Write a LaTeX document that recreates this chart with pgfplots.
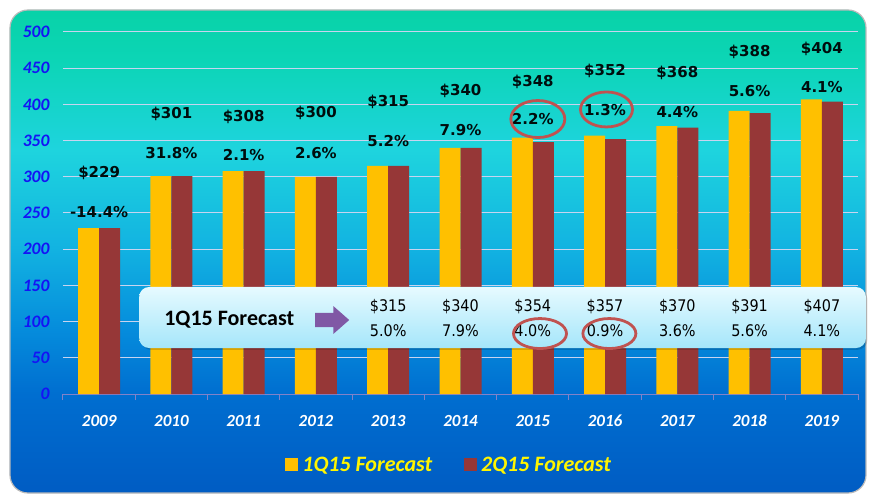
\documentclass[border=0pt]{standalone}
\usepackage{fontspec}
\setmainfont{DejaVu Sans}
\newfontfamily\carlito{Carlito}
\newfontfamily\djc{DejaVu Sans Condensed}
\usepackage{pgfplots}
\pgfplotsset{compat=1.18}

\definecolor{barY}{RGB}{255,192,0}
\definecolor{barR}{RGB}{150,55,55}
\definecolor{circ}{RGB}{192,82,80}
\definecolor{ytc}{RGB}{20,20,245}
\definecolor{gridc}{RGB}{200,212,240}
\definecolor{arrowc}{RGB}{128,88,165}
\definecolor{legy}{RGB}{255,245,0}
\definecolor{c1}{RGB}{8,210,168}
\definecolor{c2}{RGB}{12,213,182}
\definecolor{c3}{RGB}{30,212,222}
\definecolor{c4}{RGB}{18,178,225}
\definecolor{c5}{RGB}{5,140,220}
\definecolor{c6}{RGB}{0,110,208}
\definecolor{c7}{RGB}{0,92,195}
\definecolor{boxtop}{RGB}{230,250,255}
\definecolor{boxbot}{RGB}{165,230,250}

\pgfdeclareverticalshading{panel}{100bp}{color(0bp)=(c7); color(25bp)=(c7); color(35.2bp)=(c6); color(41.9bp)=(c5); color(50.2bp)=(c4); color(60.5bp)=(c3); color(69.8bp)=(c2); color(75bp)=(c1); color(100bp)=(c1)}

\begin{document}
\begin{tikzpicture}
\useasboundingbox (-63bp,-101bp) rectangle (813bp,394bp);
\fill[white] (-63bp,-101bp) rectangle (813bp,394bp);
\shadedraw[shading=panel, draw=gray!55, line width=1.2bp, rounded corners=18bp] (-53bp,-99bp) rectangle (803bp,384bp);
\begin{axis}[
  width=795bp, height=362bp, scale only axis,
  xmin=-0.5, xmax=10.5, ymin=0, ymax=500,
  ybar=0pt, bar width=21bp,
  xtick={0,...,10},
  xticklabels={2009,2010,2011,2012,2013,2014,2015,2016,2017,2018,2019},
  ytick={0,50,...,500},
  major tick length=0pt,
  extra x ticks={-0.5,0.5,...,10.5},
  extra x tick labels={},
  extra x tick style={major tick length=6bp, tick align=outside, tick style={draw=gray!60!blue!70, line width=1bp}},
  axis x line*=bottom, axis y line*=left,
  axis line style={-},
  y axis line style={draw=none},
  x axis line style={draw=gray!60!blue!70, line width=1bp},
  ymajorgrids, grid style={gridc, line width=1bp},
  /pgf/number format/assume math mode=true,
  xticklabel style={font=\carlito\bfseries\itshape\fontsize{17bp}{20bp}\selectfont, text=white, text height=11bp, text depth=0bp, anchor=north, yshift=-18bp},
  yticklabel style={font=\carlito\bfseries\itshape\fontsize{17.5bp}{20bp}\selectfont, text=ytc, xshift=-10bp},
  clip=false,
  legend style={at={(axis description cs:0.487,-0.196)}, anchor=center, draw=none, fill=none,
    legend columns=2, font=\carlito\bfseries\itshape\fontsize{22bp}{26bp}\selectfont, text=legy,
    /tikz/every even column/.append style={column sep=28bp}, inner sep=0pt,
    nodes={inner sep=4bp}},
  legend image code/.code={\fill[#1,draw=none] (0bp,-6.5bp) rectangle (13bp,6.5bp);},
]
\addplot[fill=barY, draw=none] coordinates {(0,229) (1,301) (2,308) (3,300) (4,315) (5,340) (6,354) (7,357) (8,370) (9,391) (10,407)};
\addlegendentry{1Q15 Forecast}
\addplot[fill=barR, draw=none] coordinates {(0,229) (1,301) (2,308) (3,300) (4,315) (5,340) (6,348) (7,352) (8,368) (9,388) (10,404)};
\addlegendentry{2Q15 Forecast}

% labels above bars
\begin{scope}[every node/.style={font=\bfseries\fontsize{15bp}{18bp}\selectfont, text=black!90!teal}]
\node at (axis cs:0,305) {\$229}; \node at (axis cs:0,252) {-14.4\%};
\node at (axis cs:1,387) {\$301}; \node at (axis cs:1,333) {31.8\%};
\node at (axis cs:2,383) {\$308}; \node at (axis cs:2,330) {2.1\%};
\node at (axis cs:3,388) {\$300}; \node at (axis cs:3,333) {2.6\%};
\node at (axis cs:4,404) {\$315}; \node at (axis cs:4,350) {5.2\%};
\node at (axis cs:5,418) {\$340}; \node at (axis cs:5,365) {7.9\%};
\node at (axis cs:6,431) {\$348}; \node at (axis cs:6,380) {2.2\%};
\node at (axis cs:7,446) {\$352}; \node at (axis cs:7,392) {1.3\%};
\node at (axis cs:8,444) {\$368}; \node at (axis cs:8,390) {4.4\%};
\node at (axis cs:9,473) {\$388}; \node at (axis cs:9,419) {5.6\%};
\node at (axis cs:10,477) {\$404}; \node at (axis cs:10,424) {4.1\%};
\end{scope}

% 1Q15 forecast box
\fill[black, opacity=0.15, rounded corners=10bp] (axis cs:0.58,61) rectangle (axis cs:10.63,145);
\shade[top color=boxtop, bottom color=boxbot, rounded corners=10bp] (axis cs:0.554,63.5) rectangle (axis cs:10.61,147.8);
\node[font=\carlito\bfseries\fontsize{22bp}{26bp}\selectfont, text=black] at (axis cs:1.80,102.2) {1Q15 Forecast};
\fill[arrowc] (axis cs:2.99,111.9) -- (axis cs:3.24,111.9) -- (axis cs:3.24,121.5) -- (axis cs:3.46,102.2) -- (axis cs:3.24,82.9) -- (axis cs:3.24,92.5) -- (axis cs:2.99,92.5) -- cycle;
\begin{scope}[every node/.style={font=\djc\fontsize{16bp}{19bp}\selectfont, text=black}]
\node at (axis cs:4,120.2) {\$315}; \node at (axis cs:4,87) {5.0\%};
\node at (axis cs:5,120.2) {\$340}; \node at (axis cs:5,87) {7.9\%};
\node at (axis cs:6,120.2) {\$354}; \node at (axis cs:6,87) {4.0\%};
\node at (axis cs:7,120.2) {\$357}; \node at (axis cs:7,87) {0.9\%};
\node at (axis cs:8,120.2) {\$370}; \node at (axis cs:8,87) {3.6\%};
\node at (axis cs:9,120.2) {\$391}; \node at (axis cs:9,87) {5.6\%};
\node at (axis cs:10,120.2) {\$407}; \node at (axis cs:10,87) {4.1\%};
\end{scope}

% red circles
\draw[circ, line width=2.8bp] (axis cs:6.07,379.8) ellipse [x radius=27bp, y radius=18.5bp];
\draw[circ, line width=2.8bp] (axis cs:7.02,393) ellipse [x radius=26bp, y radius=17.5bp];
\draw[circ, line width=2.8bp] (axis cs:6.10,83.5) ellipse [x radius=26.5bp, y radius=15bp];
\draw[circ, line width=2.8bp] (axis cs:7.06,83.5) ellipse [x radius=26.5bp, y radius=15bp];
\end{axis}
\end{tikzpicture}
\end{document}
